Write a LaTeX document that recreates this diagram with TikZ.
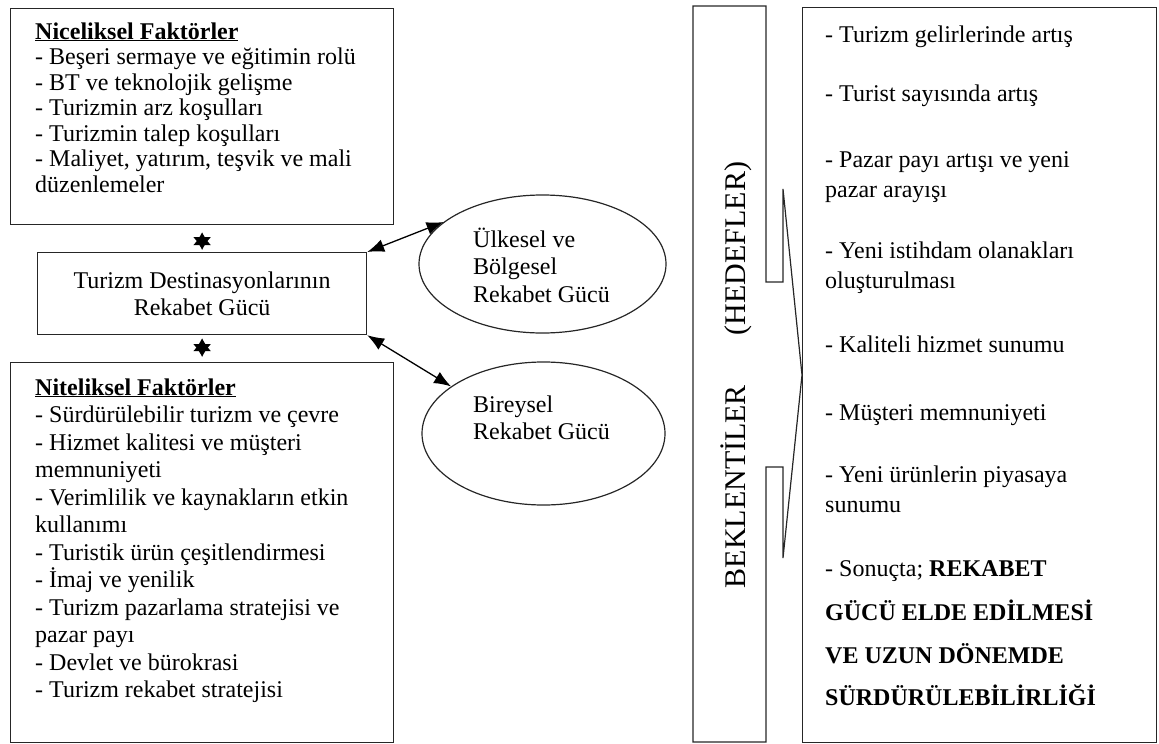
\documentclass[tikz,border=0pt]{standalone}
\usepackage{fontspec}
\setmainfont{Liberation Serif}
\usetikzlibrary{arrows.meta,shapes.geometric}

\begin{document}
\begin{tikzpicture}[x=1pt,y=-1pt,
  frame/.style={draw=black!85, line width=1.2pt, rectangle, inner sep=0pt, anchor=north west},
  oval/.style={draw=black!85, line width=1.2pt, ellipse, inner sep=0pt},
  body/.style={inner sep=0pt, anchor=base west},
  link/.style={line width=1.3pt, draw=black,
    {Latex[length=17pt,width=13pt]}-{Latex[length=17pt,width=13pt]}},
  stub/.style={line width=1.3pt, draw=black,
    {Latex[length=13pt,width=18pt]}-{Latex[length=13pt,width=18pt]}},
]
\useasboundingbox (0,0) rectangle (1159,744);

% left column: factor boxes and the central box
\node[frame, minimum width=383pt, minimum height=216pt] (quant) at (10,8) {};
\node[frame, minimum width=329pt, minimum height=82pt, align=center,
      font=\fontsize{24}{27}\selectfont] (dest) at (37,252)
      {Turizm Destinasyonlarının\\Rekabet Gücü};
\node[frame, minimum width=383pt, minimum height=380pt] (qual) at (10,362) {};

\node[body] (quanttxt) at (35,39) {\parbox[t]{355pt}{\raggedright\fontsize{24}{25.5}\selectfont
\underline{\textbf{Niceliksel Faktörler}}\\
- Beşeri sermaye ve eğitimin rolü\\
- BT ve teknolojik gelişme\\
- Turizmin arz koşulları\\
- Turizmin talep koşulları\\
- Maliyet, yatırım, teşvik ve mali\\
düzenlemeler}};

\node[body] (qualtxt) at (35,395) {\parbox[t]{355pt}{\raggedright\fontsize{24}{27.5}\selectfont
\underline{\textbf{Niteliksel Faktörler}}\\
- Sürdürülebilir turizm ve çevre\\
- Hizmet kalitesi ve müşteri\\
memnuniyeti\\
- Verimlilik ve kaynakların etkin\\
kullanımı\\
- Turistik ürün çeşitlendirmesi\\
- İmaj ve yenilik\\
- Turizm pazarlama stratejisi ve\\
pazar payı\\
- Devlet ve bürokrasi\\
- Turizm rekabet stratejisi}};

% the two levels of competitiveness
\node[oval, minimum width=247pt, minimum height=138pt] (national) at (542.5,264) {};
\node[oval, minimum width=243pt, minimum height=143pt] (indiv) at (543.5,433.5) {};
\node[body] (nationaltxt) at (473,247) {\parbox[t]{160pt}{\fontsize{24}{27.5}\selectfont
Ülkesel ve\\Bölgesel\\Rekabet Gücü}};
\node[body] (indivtxt) at (473,412) {\parbox[t]{160pt}{\fontsize{24}{27.5}\selectfont
Bireysel\\Rekabet Gücü}};

% connectors
\draw[stub, shorten <=7pt, shorten >=2pt] (quant.south) -- (dest.north);
\draw[stub, shorten <=3pt, shorten >=5pt] (dest.south) -- (qual.north);
\draw[link] (dest.north east) -- (national.157.6);
\draw[link] (dest.south east) -- (indiv.153);

% expectations callout with its arrow
\draw[line width=1.2pt, draw=black!85, line join=miter]
  (693,6) -- (766,6) -- (766,282) -- (783,282) -- (783,189) -- (802,375)
  -- (783,558) -- (783,467) -- (766,467) -- (766,742) -- (693,742) -- cycle;
\node[rotate=90, anchor=base, inner sep=0pt, font=\fontsize{30}{30}\selectfont]
  (expect) at (745,375) {BEKLENTİLER\hspace{50pt}(HEDEFLER)};

% goals box
\node[frame, minimum width=354pt, minimum height=735pt] (goals) at (802,7) {};
\node[body] (goalstxt) at (825,42.5) {\parbox[t]{325pt}{\raggedright\fontsize{24}{30}\selectfont
- Turizm gelirlerinde artış\\[29pt]
- Turist sayısında artış\\[36pt]
- Pazar payı artışı ve yeni\\
pazar arayışı\\[31pt]
- Yeni istihdam olanakları\\
oluşturulması\\[34pt]
- Kaliteli hizmet sunumu\\[38pt]
- Müşteri memnuniyeti\\[32pt]
- Yeni ürünlerin piyasaya\\
sunumu\\[34pt]
- Sonuçta; \textbf{REKABET}\\[14pt]
\textbf{GÜCÜ ELDE EDİLMESİ}\\[13pt]
\textbf{VE UZUN DÖNEMDE}\\[12pt]
\textbf{SÜRDÜRÜLEBİLİRLİĞİ}}};
\end{tikzpicture}
\end{document}
